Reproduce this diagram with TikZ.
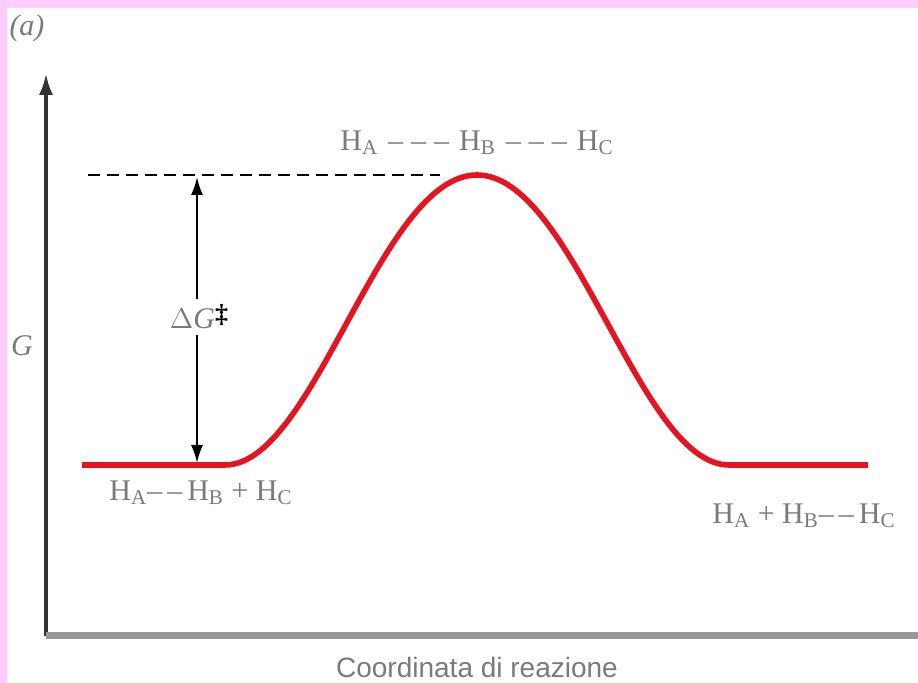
\documentclass[tikz,border=0pt]{standalone}
\usepackage{fontspec}
\setmainfont{Liberation Serif}
\newfontfamily\axisfont{Liberation Sans}
\usetikzlibrary{arrows.meta}
\definecolor{framepink}{HTML}{FFCCFF}
\definecolor{curvered}{HTML}{E41420}
\definecolor{labelgray}{HTML}{7A7A7A}
\definecolor{axisdark}{HTML}{333333}

\begin{document}
\begin{tikzpicture}[x=0.5pt, y=0.5pt,
    lbl/.style={text=labelgray, inner sep=1pt, font=\fontsize{15}{18}\selectfont},
    axis/.style={line width=2pt, draw=axisdark},
    arr/.style={{Latex[length=9pt,width=6pt]}-{Latex[length=9pt,width=6pt]}, line width=1pt},
    every node/.style={inner sep=1pt}
]
\useasboundingbox (0,0) rectangle (918,683);

% pink frame
\fill[framepink] (0,675) rectangle (918,683);
\fill[framepink] (0,0) rectangle (7,683);

% axes
\coordinate (origin) at (46,47);
\coordinate (ytop) at (46,610);
\coordinate (xend) at (918,47);
\draw[axis, -{Latex[length=11pt,width=7pt]}] (origin) -- (ytop);
\draw[line width=3.5pt, draw=gray!80] (origin) -- (xend);

% curve points
\coordinate (start) at (82,218);
\coordinate (rise) at (225,218);
\coordinate (peak) at (477,508);
\coordinate (fall) at (729,218);
\coordinate (stop) at (868,218);
\coordinate (dash) at (88,508);

% energy profile
\draw[curvered, line width=2.8pt, line join=round]
    (start) -- (rise) .. controls (315,218) and (380,508) .. (peak)
    .. controls (574,508) and (639,218) .. (fall) -- (stop);

% barrier level
\draw[dash pattern=on 6pt off 3.5pt, line width=1.2pt] (dash) -- (440,508);

% barrier height
\coordinate (barTop) at (197,506);
\coordinate (barBot) at (197,220);
\draw[arr] (barBot) -- (barTop);
\node[lbl, fill=white, inner sep=3pt] (dG) at (199,366) {\textit{$\Delta$G}\textcolor{black}{\raisebox{3pt}{\fontsize{13}{13}\selectfont\textbf{\ddag}}}};

% labels
\node[lbl] (ts) at (477,540) {H\textsubscript{A}\hspace{5pt}--\hspace{4pt}--\hspace{4pt}--\hspace{5pt}H\textsubscript{B}\hspace{5pt}--\hspace{4pt}--\hspace{4pt}--\hspace{5pt}H\textsubscript{C}};
\node[lbl] (reac) at (201,190) {H\textsubscript{A}--\,--\,H\textsubscript{B} + H\textsubscript{C}};
\node[lbl] (prod) at (804,167) {H\textsubscript{A} + H\textsubscript{B}--\,--\,H\textsubscript{C}};
\node[lbl] (G) at (22,337) {\textit{G}};
\node[lbl] (tag) at (27,655) {\textit{(a)}};
\node[text=labelgray, font=\axisfont\fontsize{14}{16}\selectfont] (xlabel) at (477,15) {Coordinata di reazione};

\end{tikzpicture}
\end{document}
